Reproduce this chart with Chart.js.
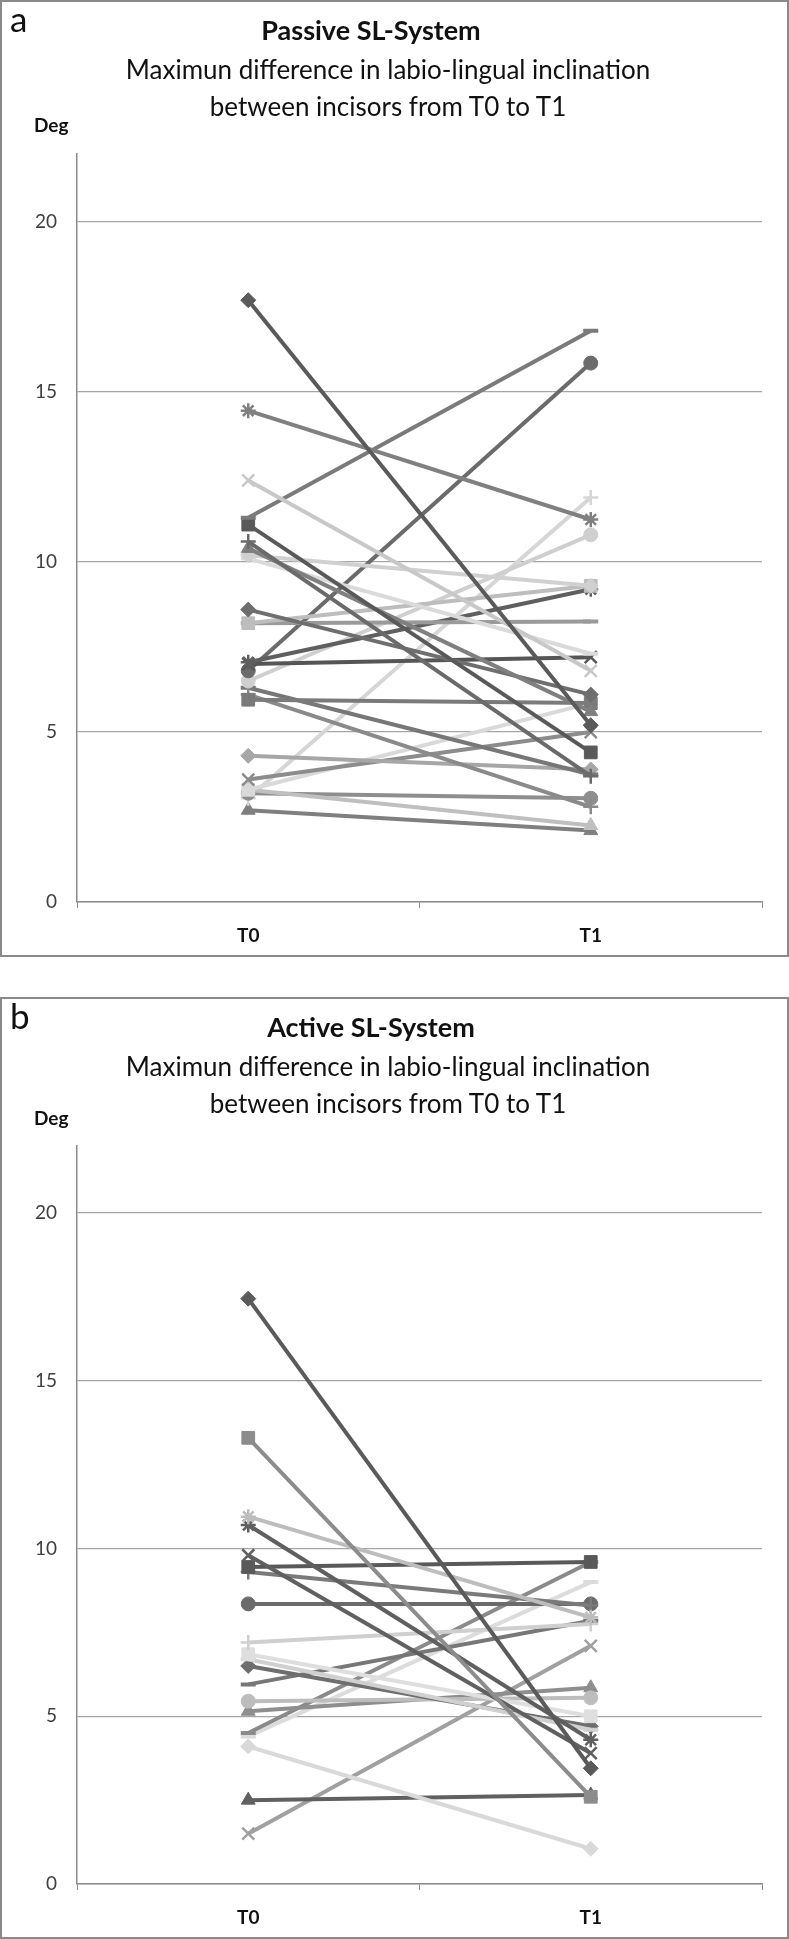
<!DOCTYPE html>
<html>
<head>
<meta charset="utf-8">
<script src="https://cdn.jsdelivr.net/npm/chart.js@4.4.1/dist/chart.umd.min.js"></script>
<style>
  body{margin:0;background:#fff;font-family:Lato,"Open Sans",sans-serif;color:#111;}
  .panel{position:absolute;left:0;width:789px;}
  .panel canvas{position:absolute;left:0;top:0;}
  .frame{position:absolute;left:0;top:0;right:0;bottom:0;border:2px solid #8a8a8a;box-sizing:border-box;pointer-events:none;}
  .letter{position:absolute;left:10px;top:-3px;font-size:35px;line-height:42px;}
  .title{position:absolute;left:0;width:742px;text-align:center;font-weight:bold;font-size:27px;line-height:32px;top:14px;}
  .sub{position:absolute;left:0;width:776px;text-align:center;font-size:26px;line-height:37px;top:51px;}
  .deg{position:absolute;left:34px;top:114px;font-weight:bold;font-size:19px;line-height:22px;}
</style>
</head>
<body>

<div class="panel" id="panelA" style="top:0;height:957px;">
  <canvas id="chartA" width="789" height="957"></canvas>
  <div class="letter">a</div>
  <div class="title">Passive SL-System</div>
  <div class="sub">Maximun difference in labio-lingual inclination<br>between incisors from T0 to T1</div>
  <div class="deg">Deg</div>
  <div class="frame"></div>
</div>

<div class="panel" id="panelB" style="top:997px;height:942px;">
  <canvas id="chartB" width="789" height="942"></canvas>
  <div class="letter">b</div>
  <div class="title">Active SL-System</div>
  <div class="sub">Maximun difference in labio-lingual inclination<br>between incisors from T0 to T1</div>
  <div class="deg" style="top:110px;">Deg</div>
  <div class="frame"></div>
</div>

<script>
/* data (degrees) */
const categories = ["T0", "T1"];
const yTicks = [0, 5, 10, 15, 20];

const passiveT0 = [17.7, 14.45, 12.4, 11.3, 11.1, 10.6, 10.4, 10.2, 10.1, 8.6, 8.2, 8.2, 7.05, 7.0, 6.8, 6.5, 5.95, 6.1, 6.3, 4.3, 3.6, 3.3, 3.3, 3.2, 3.05, 2.7];
const passiveT1 = [5.2, 11.25, 6.8, 16.8, 4.4, 3.7, 5.6, 9.3, 7.3, 6.1, 9.3, 8.25, 9.2, 7.2, 15.85, 10.8, 5.85, 2.8, 3.75, 3.9, 5.0, 5.85, 2.25, 3.05, 11.9, 2.1];

const activeT0 = [17.45, 13.3, 10.95, 10.7, 9.8, 9.45, 9.3, 8.35, 7.2, 6.85, 6.7, 6.5, 5.95, 5.45, 5.15, 4.5, 4.4, 4.1, 2.5, 1.5];
const activeT1 = [3.45, 2.6, 7.95, 4.3, 3.9, 9.6, 8.3, 8.35, 7.75, 5.0, 4.6, 4.7, 7.85, 5.55, 5.85, 9.6, 9.0, 1.05, 2.65, 7.1];

/* styles: one marker + grey per series */
const passiveMarkers = ["rectRot","star","crossRot","line","rect","cross","triangle","rectRot","line","rectRot","rect","line","star","crossRot","circle","circle","rect","cross","line","rectRot","crossRot","rect","triangle","circle","cross","triangle"];
const passiveGreys = ["#5a5a5a","#808080","#c8c8c8","#7a7a7a","#595959","#6a6a6a","#7f7f7f","#d0d0d0","#dadada","#6e6e6e","#bdbdbd","#9a9a9a","#5f5f5f","#555555","#6b6b6b","#cfcfcf","#7a7a7a","#8a8a8a","#777777","#a6a6a6","#8c8c8c","#d9d9d9","#bfbfbf","#8e8e8e","#d6d6d6","#7f7f7f"];

const activeMarkers = ["rectRot","rect","star","star","crossRot","rect","cross","circle","cross","rect","line","rectRot","line","circle","triangle","line","line","rectRot","triangle","crossRot"];
const activeGreys = ["#5a5a5a","#8c8c8c","#bdbdbd","#5f5f5f","#606060","#595959","#7a7a7a","#6b6b6b","#cfcfcf","#dedede","#d0d0d0","#6e6e6e","#777777","#bdbdbd","#8e8e8e","#8a8a8a","#dcdcdc","#d9d9d9","#606060","#a0a0a0"];

const RADIUS = {rect:9, rectRot:7.5, triangle:8, circle:7, cross:7.5, crossRot:8.5, star:7.5, line:7.5};
const STROKE = {rect:1, rectRot:1, triangle:1, circle:1, cross:2.5, crossRot:2.5, star:2.5, line:4};

function buildDatasets(t0, t1, markers, greys){
  return t0.map((v, i) => {
    const m = markers[i], c = greys[i];
    return {
      data: [v, t1[i]],
      borderColor: c,
      backgroundColor: c,
      pointBackgroundColor: c,
      pointBorderColor: c,
      pointStyle: m,
      pointRadius: RADIUS[m],
      pointBorderWidth: STROKE[m],
      borderWidth: 4,
      tension: 0
    };
  });
}

function makeChart(id, t0, t1, markers, greys, top, bottom, canvasH){
  new Chart(document.getElementById(id), {
    type: "line",
    data: { labels: categories, datasets: buildDatasets(t0, t1, markers, greys) },
    options: {
      responsive: false,
      animation: false,
      layout: { padding: { top: top, right: 27, left: 0, bottom: 0 } },
      plugins: { legend: { display: false }, tooltip: { enabled: false } },
      scales: {
        x: {
          offset: true,
          grid: { offset: true, drawOnChartArea: false, drawTicks: true, tickLength: 6, color: "#8c8c8c" },
          border: { color: "#8c8c8c", width: 1.5 },
          ticks: { color: "#111", padding: 16, font: { family: "Lato", size: 19, weight: "bold" } },
          afterFit: s => { s.height = canvasH - bottom; }
        },
        y: {
          min: 0, max: 22,
          afterBuildTicks: s => { s.ticks = yTicks.map(v => ({ value: v })); },
          grid: { color: "#a6a6a6", lineWidth: 1.2, drawTicks: false },
          border: { color: "#8c8c8c", width: 1.5 },
          ticks: { color: "#404040", padding: 20, font: { family: "Lato", size: 19 } },
          afterFit: s => { s.width = 77; }
        }
      }
    }
  });
}

makeChart("chartA", passiveT0, passiveT1, passiveMarkers, passiveGreys, 154, 902, 957);
makeChart("chartB", activeT0, activeT1, activeMarkers, activeGreys, 149, 887, 942);
</script>
</body>
</html>
